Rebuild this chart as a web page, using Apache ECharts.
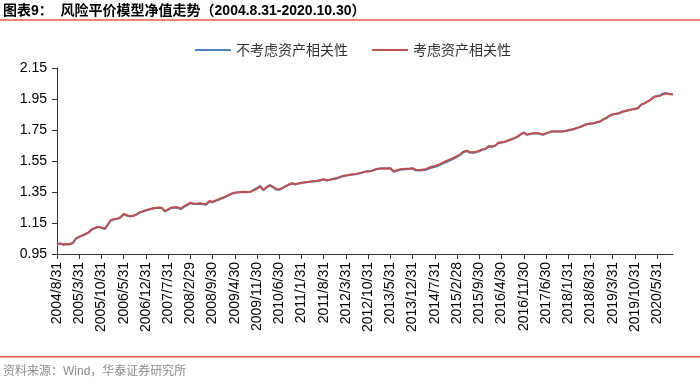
<!DOCTYPE html>
<html>
<head>
<meta charset="utf-8">
<script src="https://cdn.jsdelivr.net/npm/echarts@6/dist/echarts.min.js"></script>
<style>
html,body{margin:0;padding:0;background:#fff;}
#c{width:700px;height:384px;}
</style>
</head>
<body>
<div id="c"></div>
<script>
var titleText = '图表9：  风险平价模型净值走势（2004.8.31-2020.10.30）';
var sourceText = '资料来源：Wind，华泰证券研究所';
var seriesNames = ['不考虑资产相关性', '考虑资产相关性'];
var yTicks = [0.95, 1.15, 1.35, 1.55, 1.75, 1.95, 2.15];

// monthly dates 2004/8/31 ... 2020/10/30
var dates = (function () {
  var out = [];
  var y = 2004, m = 8;
  while (y < 2020 || (y === 2020 && m <= 10)) {
    var last = new Date(y, m, 0).getDate();
    if (y === 2020 && m === 10) last = 30;
    out.push(y + '/' + m + '/' + last);
    m++; if (m > 12) { m = 1; y++; }
  }
  return out;
})();

var withCorr = [
1.010,1.019,1.010,1.015,1.013,1.022,1.050,1.062,1.070,1.079,
1.090,1.109,1.118,1.126,1.120,1.112,1.140,1.170,1.175,1.178,
1.187,1.208,1.200,1.194,1.197,1.205,1.218,1.225,1.232,1.238,
1.243,1.247,1.250,1.248,1.226,1.238,1.249,1.252,1.251,1.242,
1.258,1.268,1.281,1.276,1.275,1.277,1.275,1.273,1.292,1.287,
1.296,1.303,1.312,1.320,1.330,1.340,1.345,1.349,1.350,1.351,
1.350,1.352,1.362,1.372,1.384,1.363,1.380,1.393,1.384,1.370,
1.367,1.376,1.388,1.398,1.406,1.400,1.405,1.409,1.413,1.415,
1.418,1.420,1.422,1.427,1.432,1.425,1.430,1.435,1.438,1.446,
1.453,1.457,1.460,1.464,1.466,1.470,1.475,1.481,1.484,1.486,
1.494,1.500,1.502,1.503,1.502,1.504,1.484,1.490,1.496,1.498,
1.500,1.501,1.503,1.494,1.492,1.494,1.496,1.505,1.513,1.518,
1.524,1.534,1.545,1.553,1.562,1.571,1.582,1.593,1.610,1.617,
1.608,1.606,1.610,1.616,1.625,1.629,1.647,1.643,1.650,1.668,
1.671,1.674,1.682,1.690,1.698,1.707,1.722,1.733,1.720,1.725,
1.729,1.730,1.727,1.720,1.728,1.736,1.742,1.741,1.742,1.741,
1.743,1.748,1.753,1.758,1.765,1.772,1.782,1.789,1.792,1.794,
1.800,1.805,1.818,1.828,1.842,1.851,1.855,1.858,1.868,1.873,
1.878,1.883,1.887,1.891,1.915,1.922,1.933,1.945,1.962,1.967,
1.971,1.983,1.985,1.981,1.979
];

var noCorr = [
1.010,1.018,1.010,1.014,1.013,1.021,1.049,1.061,1.069,1.078,
1.089,1.108,1.117,1.125,1.119,1.111,1.139,1.168,1.173,1.177,
1.186,1.206,1.198,1.193,1.196,1.204,1.217,1.224,1.231,1.237,
1.242,1.246,1.249,1.247,1.224,1.236,1.247,1.250,1.249,1.239,
1.254,1.264,1.278,1.272,1.272,1.274,1.271,1.268,1.288,1.284,
1.293,1.300,1.310,1.318,1.328,1.338,1.344,1.348,1.349,1.350,
1.349,1.352,1.364,1.376,1.390,1.362,1.382,1.394,1.382,1.366,
1.364,1.374,1.386,1.397,1.405,1.399,1.404,1.408,1.412,1.414,
1.417,1.419,1.421,1.426,1.431,1.424,1.429,1.434,1.437,1.445,
1.452,1.456,1.459,1.463,1.465,1.469,1.474,1.480,1.483,1.485,
1.493,1.499,1.501,1.502,1.501,1.503,1.481,1.487,1.493,1.495,
1.497,1.498,1.500,1.490,1.488,1.490,1.492,1.500,1.507,1.512,
1.518,1.528,1.539,1.547,1.556,1.566,1.577,1.589,1.606,1.614,
1.605,1.603,1.607,1.613,1.622,1.627,1.645,1.641,1.648,1.666,
1.669,1.672,1.680,1.688,1.696,1.705,1.721,1.733,1.719,1.724,
1.728,1.729,1.726,1.719,1.727,1.735,1.741,1.740,1.741,1.740,
1.742,1.747,1.752,1.757,1.764,1.771,1.781,1.788,1.791,1.793,
1.799,1.804,1.817,1.827,1.841,1.850,1.854,1.857,1.867,1.872,
1.877,1.882,1.886,1.890,1.914,1.922,1.934,1.947,1.964,1.970,
1.975,1.986,1.988,1.983,1.980
];

var chart = echarts.init(document.getElementById('c'), null, {renderer: 'canvas'});
var axisColor = '#333';
chart.setOption({
  animation: false,
  backgroundColor: '#fff',
  graphic: [
    {type: 'text', left: 3, top: 4, style: {text: titleText, fill: '#000', font: 'bold 14px "Liberation Sans", "Noto Sans CJK SC", sans-serif'}},
    {type: 'rect', shape: {x: 0, y: 19, width: 700, height: 2}, style: {fill: '#f0837a'}},
    {type: 'rect', shape: {x: 0, y: 356, width: 700, height: 1.5}, style: {fill: '#e8503f'}},
    {type: 'text', left: 3, top: 366, style: {text: sourceText, fill: '#8c8c8c', font: '12px "Liberation Sans", "Noto Sans CJK SC", sans-serif'}}
  ],
  legend: {
    top: 38,
    left: 190,
    itemWidth: 36,
    itemHeight: 2,
    itemGap: 24,
    icon: 'rect',
    textStyle: {fontSize: 14, color: '#333', fontFamily: '"Noto Sans CJK SC", sans-serif'},
    data: seriesNames
  },
  grid: {left: 57, right: 27, top: 68, bottom: 130, containLabel: false},
  xAxis: {
    type: 'category',
    boundaryGap: false,
    data: dates,
    axisLine: {lineStyle: {color: axisColor, width: 1}},
    axisTick: {interval: 6, length: 5, lineStyle: {color: axisColor}},
    axisLabel: {interval: 6, rotate: 90, fontSize: 14, color: '#000', margin: 8, fontFamily: '"Liberation Sans", Arial, sans-serif'},
    splitLine: {show: false}
  },
  yAxis: {
    type: 'value',
    min: yTicks[0],
    max: yTicks[yTicks.length - 1],
    interval: 0.2,
    axisLine: {show: true, lineStyle: {color: axisColor, width: 1}},
    axisTick: {show: true, length: 5, lineStyle: {color: axisColor}},
    axisLabel: {fontSize: 14, color: '#000', margin: 10, fontFamily: '"Liberation Sans", Arial, sans-serif',
      formatter: function (v) { return v.toFixed(2); }},
    splitLine: {show: false}
  },
  series: [
    {name: seriesNames[0], type: 'line', data: noCorr, showSymbol: false, symbol: 'none',
      lineStyle: {color: '#4f81c7', width: 2}, itemStyle: {color: '#4f81c7'}, z: 2},
    {name: seriesNames[1], type: 'line', data: withCorr, showSymbol: false, symbol: 'none',
      lineStyle: {color: '#c0504d', width: 2}, itemStyle: {color: '#c0504d'}, z: 3}
  ]
});
</script>
</body>
</html>
